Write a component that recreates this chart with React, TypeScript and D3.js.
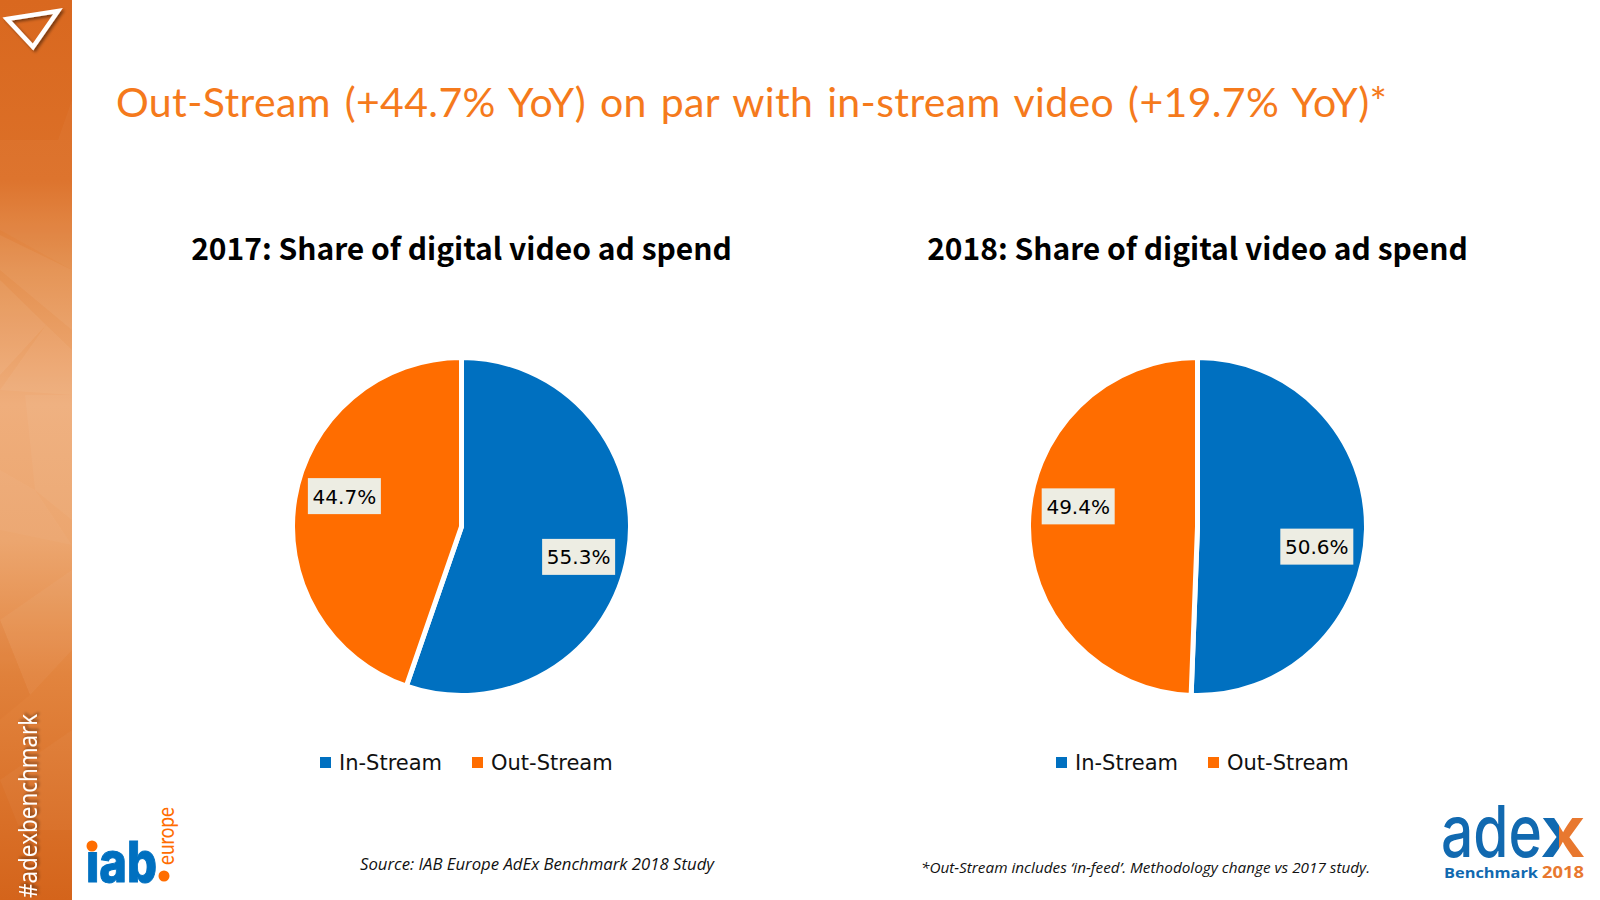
import * as d3 from 'd3';

const categories = ['In-Stream', 'Out-Stream'];
const years = ['2017', '2018'];
const share2017 = [55.3, 44.7];
const share2018 = [50.6, 49.4];

const pageTitle = 'Out-Stream (+44.7% YoY) on par with in-stream video (+19.7% YoY)*';
const sourceNote = 'Source: IAB Europe AdEx Benchmark 2018 Study';
const methodNote = '*Out-Stream includes ‘in-feed’. Methodology change vs 2017 study.';

const BLUE = '#0070c0';
const ORANGE = '#ff6d00';

const color = d3.scaleOrdinal<string, string>().domain(categories).range([BLUE, ORANGE]);

const radius = 169;
const pie = d3.pie<number>().sort(null).value((d) => d);
const arc = d3.arc<d3.PieArcDatum<number>>().innerRadius(0).outerRadius(radius);

// Background facets of the side strip
const facets = [
  { points: '0,140 58,140 72,100 72,270 0,230', fill: '#fff', opacity: 0.03 },
  { points: '0,235 72,270 72,330 0,270', fill: '#fff', opacity: 0.05 },
  { points: '0,280 46,325 0,375', fill: '#fff', opacity: 0.06 },
  { points: '46,325 72,350 72,395 0,390', fill: '#fff', opacity: 0.05 },
  { points: '25,395 72,395 72,520 35,490', fill: '#fff', opacity: 0.04 },
  { points: '0,470 35,490 72,545 0,530', fill: '#fff', opacity: 0.03 },
  { points: '0,620 72,570 72,650 30,695', fill: '#fff', opacity: 0.04 },
  { points: '0,620 30,695 0,720', fill: '#c85a10', opacity: 0.06 },
  { points: '0,780 72,730 72,830 20,830', fill: '#fff', opacity: 0.03 },
];

function PieChart({ year, values, cx, labelTurn, legendX }: {
  year: string; values: number[]; cx: number; labelTurn: number; legendX: number[];
}) {
  const cy = 526.5;
  const labelRadius = 121;
  return (
    <g>
      <text x={cx} y={260} textAnchor="middle" fontFamily="'Noto Sans CJK SC'" fontWeight={700} fontSize={30} fill="#000">
        {`${year}: Share of digital video ad spend`}
      </text>
      <g transform={`translate(${cx},${cy})`}>
        {pie(values).map((d, i) => (
          <path key={i} d={arc(d) ?? ''} fill={color(categories[i])} stroke="#fff" strokeWidth={5} />
        ))}
        {pie(values).map((d, i) => {
          const a = (d.startAngle + d.endAngle) / 2 + labelTurn;
          const x = Math.sin(a) * labelRadius;
          const y = -Math.cos(a) * labelRadius;
          return (
            <g key={i} transform={`translate(${x},${y})`}>
              <rect x={-36.5} y={-18} width={73} height={36} fill="#ededE3" />
              <text y={7.5} textAnchor="middle" fontFamily="'DejaVu Sans'" fontSize={20} fill="#000">
                {`${d.data}%`}
              </text>
            </g>
          );
        })}
      </g>
      {categories.map((c, i) => (
        <g key={c} transform={`translate(${legendX[i]},0)`}>
          <rect x={0} y={757} width={11} height={11} fill={color(c)} />
          <text x={19} y={770} fontFamily="'DejaVu Sans'" fontSize={21} fill="#111">{c}</text>
        </g>
      ))}
    </g>
  );
}

export default function App() {
  return (
    <svg width={1600} height={900} viewBox="0 0 1600 900" style={{ position: 'fixed', left: 0, top: 0, background: '#fff' }}>
      <defs>
        <linearGradient id="strip" x1="0" y1="0" x2="0" y2="1">
          <stop offset="0" stopColor="#d9681f" />
          <stop offset="0.2" stopColor="#dc7028" />
          <stop offset="0.3" stopColor="#e4904f" />
          <stop offset="0.45" stopColor="#efae7c" />
          <stop offset="0.6" stopColor="#eca66f" />
          <stop offset="0.75" stopColor="#e2843e" />
          <stop offset="1" stopColor="#d4641b" />
        </linearGradient>
        <linearGradient id="adexX" x1="0" y1="0" x2="1" y2="0">
          <stop offset="0.42" stopColor="#1169b0" />
          <stop offset="0.42" stopColor="#e8782f" />
        </linearGradient>
        <filter id="soft" x="-30%" y="-30%" width="160%" height="160%">
          <feDropShadow dx={2} dy={2} stdDeviation={1.5} floodColor="#000" floodOpacity={0.45} />
        </filter>
      </defs>

      <rect x={0} y={0} width={72} height={900} fill="url(#strip)" />
      {facets.map((f, i) => (
        <polygon key={i} points={f.points} fill={f.fill} opacity={f.opacity} />
      ))}
      <polygon points="7,19 58,11 33,47" fill="none" stroke="#fff" strokeWidth={4.5} filter="url(#soft)" />
      <text transform="translate(37,898) rotate(-90)" fontFamily="'Open Sans'" fontSize={25} fill="#fff" filter="url(#soft)" textLength={184} lengthAdjust="spacingAndGlyphs">
        #adexbenchmark
      </text>

      <text x={116} y={117} fontFamily="Lato" fontSize={41} wordSpacing={3} fill="#f57a1c" textLength={1271} lengthAdjust="spacing">
        {pageTitle}
      </text>

      <PieChart year={years[0]} values={share2017} cx={461.5} labelTurn={(5 * Math.PI) / 180} legendX={[320, 472]} />
      <PieChart year={years[1]} values={share2018} cx={1197.5} labelTurn={(8.5 * Math.PI) / 180} legendX={[1056, 1208]} />

      <text x={360} y={870} fontFamily="'Open Sans'" fontStyle="italic" fontSize={17} fill="#111" textLength={354} lengthAdjust="spacingAndGlyphs">
        {sourceNote}
      </text>
      <text x={921} y={873} fontFamily="'Open Sans'" fontStyle="italic" fontSize={15} fill="#111" textLength={449} lengthAdjust="spacingAndGlyphs">
        {methodNote}
      </text>

      {/* iab europe logo */}
      <text x={86} y={882} fontFamily="Inter" fontWeight={800} fontSize={56} fill={BLUE} stroke={BLUE} strokeWidth={1} textLength={71} lengthAdjust="spacingAndGlyphs">iab</text>
      <rect x={84} y={834} width={18} height={18} fill="#fff" />
      <circle cx={92} cy={846} r={5.5} fill={ORANGE} />
      <circle cx={164} cy={876} r={5.5} fill={ORANGE} />
      <text transform="translate(174,865) rotate(-90)" fontFamily="Lato" fontSize={23} fill={ORANGE} textLength={58} lengthAdjust="spacingAndGlyphs">europe</text>

      {/* adex benchmark logo */}
      <text x={1441} y={857} fontFamily="Inter" fontWeight={500} fontSize={72} fill="#1169b0" textLength={101} lengthAdjust="spacingAndGlyphs">ade</text>
      <text x={1540} y={857} fontFamily="Inter" fontWeight={600} fontSize={72} fill="url(#adexX)" textLength={46} lengthAdjust="spacingAndGlyphs">x</text>
      <text x={1444} y={878} fontFamily="'Open Sans'" fontWeight={700} fontSize={15} fill="#1169b0" textLength={94} lengthAdjust="spacingAndGlyphs">Benchmark</text>
      <text x={1542} y={878} fontFamily="'Open Sans'" fontWeight={700} fontSize={16} fill="#e8782f" textLength={42} lengthAdjust="spacingAndGlyphs">2018</text>
    </svg>
  );
}
